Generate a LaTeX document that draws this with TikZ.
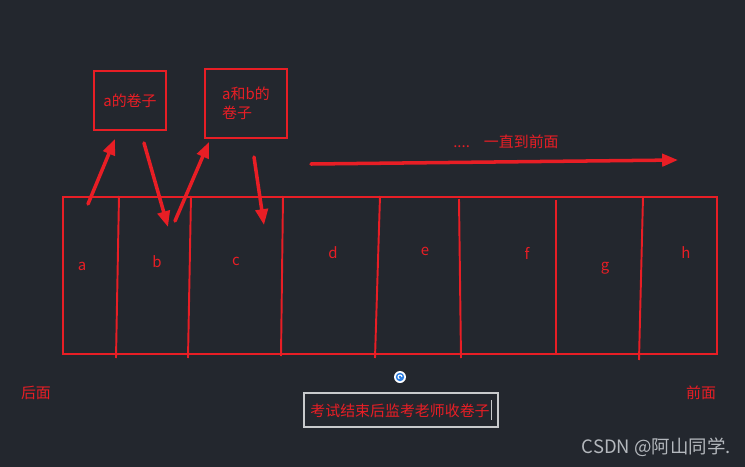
\documentclass[tikz,border=0pt]{standalone}
\usepackage{fontspec}
\newfontfamily\cjk{Noto Sans CJK SC}
\usetikzlibrary{arrows.meta, positioning}
\definecolor{bgdark}{HTML}{23272E}
\definecolor{penred}{HTML}{E81E25}
\definecolor{framegray}{HTML}{C8CACC}
\definecolor{markgray}{HTML}{B4B8BD}
\definecolor{iconblue}{HTML}{2A7DE1}

\begin{document}
\begin{tikzpicture}[
    x=0.02cm, y=-0.02cm,
    font=\cjk\fontsize{8.5}{10.8}\selectfont,
    >={Triangle[length=9pt, width=7pt]},
    pen/.style={draw=penred, line width=1.1pt},
    paper/.style={
      pen, rectangle, align=left, text=penred, inner sep=0pt
    },
    cell/.style={text=penred, inner sep=0pt, anchor=base},
    hint/.style={text=penred, inner sep=0pt},
    stroke/.style={->, penred, line width=2pt, line cap=round},
    divider/.style={penred, line width=1.1pt}
  ]

    % --- Background ---
    \useasboundingbox (0,0) rectangle (745,467);
    \fill[bgdark] (0,0) rectangle (745,467);

    % --- Row of seats ---
    \node[pen, minimum width=13.08cm, minimum height=3.14cm, inner sep=0pt]
      (strip) at (390,275.5) {};
    \draw[divider] (119,196) -- (116,358);
    \draw[divider] (191,196) -- (188,358);
    \draw[divider] (283,196) -- (281,356);
    \draw[divider] (380,196) -- (375,358);
    \draw[divider] (459,199) -- (461,358);
    \draw[divider] (556,200) -- (556,354);
    \draw[divider] (643,197) -- (639,360);

    % --- Seat letters ---
    \node[cell] (seatA) at (82,270) {a};
    \node[cell] (seatB) at (157,267) {b};
    \node[cell] (seatC) at (236,265) {c};
    \node[cell] (seatD) at (333,258) {d};
    \node[cell] (seatE) at (425,255) {e};
    \node[cell] (seatF) at (527,259) {f};
    \node[cell] (seatG) at (605,270) {g};
    \node[cell] (seatH) at (686,258) {h};

    % --- Paper stacks ---
    \node[paper, minimum width=1.44cm, minimum height=1.18cm]
      (stackA) at (130,100.5) {a的卷子};
    \node[paper, minimum width=1.64cm, minimum height=1.38cm]
      (stackAB) at (246,103.5) {a和b的\\卷子};

    % --- Arrow ends ---
    \coordinate (aOut) at (88,204);
    \coordinate (aIn)  at (115,139);
    \coordinate (bOut) at (144,143);
    \coordinate (bIn)  at (168,227);
    \coordinate (cOut) at (175,221);
    \coordinate (cIn)  at (209,142);
    \coordinate (dOut) at (254,157);
    \coordinate (dIn)  at (264,225);
    \coordinate (runOut) at (311,164);
    \coordinate (runIn)  at (678,160);

    \draw[stroke] (aOut) -- (aIn);
    \draw[stroke] (bOut) -- (bIn);
    \draw[stroke] (cOut) -- (cIn);
    \draw[stroke] (dOut) -- (dIn);
    \draw[stroke] (runOut) -- (runIn);

    % --- Notes ---
    \node[hint] (onward) at (506,142) {....\hspace{8pt}一直到前面};
    \node[hint] (back)  at (36,393) {后面};
    \node[hint] (front) at (701,393) {前面};

    % --- Small logo ---
    \node[circle, fill=white, minimum size=0.24cm, inner sep=0pt]
      (logo) at (400,377) {};
    \fill[iconblue] (logo.center) circle (0.085cm);
    \draw[white, line width=0.6pt] (logo.center) ++(0.04cm,0) arc (0:250:0.04cm);

    % --- Caption box ---
    \node[draw=framegray, line width=0.6pt, text=penred,
          minimum width=3.88cm, minimum height=0.68cm, inner sep=0pt]
      (caption) at (401,410)
      {考试结束后监考老师收卷子\hspace{0.5pt}\textcolor{framegray}{\rule[-2pt]{0.6pt}{11pt}}};

    % --- Watermark ---
    \node[text=markgray, inner sep=0pt, anchor=east,
          font=\cjk\fontsize{10.5}{12}\selectfont]
      (mark) at (731,447) {CSDN @阿山同学.};

  \end{tikzpicture}
\end{document}
